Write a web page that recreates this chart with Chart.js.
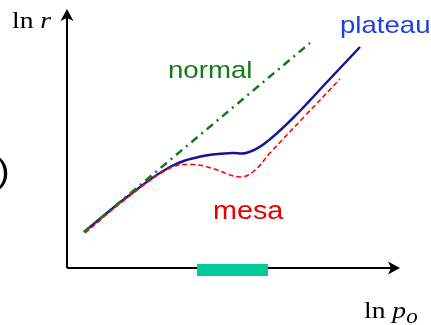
<!DOCTYPE html>
<html>
<head>
<meta charset="utf-8">
<script src="https://cdn.jsdelivr.net/npm/chart.js@4/dist/chart.umd.min.js"></script>
<style>
  html, body { margin: 0; padding: 0; background: #fff; }
  canvas { display: block; }
</style>
</head>
<body>
<canvas id="myChart" width="431" height="325"></canvas>
<script>
'use strict';

// curves, in ln p_o / ln r units
var plateauX = [1.7, 6.0, 10.3, 13.6, 16.5, 17.9, 19.7, 22.6, 26.0, 29.3];
var plateauY = [3.6, 7.1, 10.1, 11.2, 11.5, 11.5, 12.4, 15.0, 18.6, 22.1];

var mesaX = [1.8, 6.0, 10.3, 12.6, 14.4, 17.3, 18.7, 20.3, 23.7, 27.3];
var mesaY = [3.5, 7.0, 10.0, 10.35, 10.0, 9.1, 9.7, 11.5, 15.1, 18.9];

var normalX = [1.7, 24.3];
var normalY = [3.6, 22.5];

// axes and the highlighted range on the ln p_o axis
var axisXEnd = 33.3;
var axisYEnd = 25.9;
var rangeX = [13.0, 20.1];
var rangeY = -0.2;

var labels = ['plateau', 'normal', 'mesa'];

function pts(xs, ys){
    var out = [];
    for (var i = 0; i < xs.length; i++) {
        out.push({x: xs[i], y: ys[i]});
    }
    return out;
}

function stretchText(ctx, txt, x, y, font, color, k){
    k = k || 1.15;
    ctx.save();
    ctx.font = font;
    ctx.fillStyle = color;
    ctx.textBaseline = 'alphabetic';
    ctx.translate(x, y);
    ctx.scale(k, 1);
    ctx.fillText(txt, 0, 0);
    var w = ctx.measureText(txt).width * k;
    ctx.restore();
    return w;
}

//------- arrows and text
var decor = {
    id: 'decor',
    afterDatasetsDraw: function(chart){
        var ctx = chart.ctx;
        var sx = chart.scales.x, sy = chart.scales.y;
        var ox = sx.getPixelForValue(0), oy = sy.getPixelForValue(0);

        ctx.save();
        ctx.fillStyle = '#000';
        // y arrow
        var tx = ox, ty = sy.getPixelForValue(axisYEnd);
        ctx.beginPath();
        ctx.moveTo(tx, ty);
        ctx.lineTo(tx + 6.5, ty + 12);
        ctx.lineTo(tx, ty + 9);
        ctx.lineTo(tx - 6.5, ty + 12);
        ctx.closePath();
        ctx.fill();
        // x arrow
        tx = sx.getPixelForValue(axisXEnd); ty = oy;
        ctx.beginPath();
        ctx.moveTo(tx, ty);
        ctx.lineTo(tx - 12, ty - 6.5);
        ctx.lineTo(tx - 9, ty);
        ctx.lineTo(tx - 12, ty + 6.5);
        ctx.closePath();
        ctx.fill();
        ctx.restore();

        var sans = 'px "Liberation Sans", Arial, sans-serif';
        var serif = '"Liberation Serif", "Times New Roman", serif';
        stretchText(ctx, labels[0], 340, 33, '24' + sans, '#1f3fdc');
        stretchText(ctx, labels[1], 168, 78, '24' + sans, '#187818');
        stretchText(ctx, labels[2], 213, 219, '25' + sans, '#e60000');
        stretchText(ctx, ')', -3, 182, '33' + sans, '#000');

        var w = stretchText(ctx, 'ln ', 12, 28, '24px ' + serif, '#000');
        stretchText(ctx, 'r', 12 + w, 28, 'italic 24px ' + serif, '#000');

        w = stretchText(ctx, 'ln ', 364, 318, '24px ' + serif, '#000');
        var w2 = stretchText(ctx, 'p', 364 + w, 318, 'italic 24px ' + serif, '#000');
        stretchText(ctx, 'o', 364 + w + w2, 323, 'italic 20px ' + serif, '#000');
    }
};

var ctx = document.getElementById('myChart').getContext('2d');
var chart = new Chart(ctx, {
    type: 'line',
    data: {
        datasets: [
            {
                label: 'range',
                data: pts(rangeX, [rangeY, rangeY]),
                borderColor: '#00cc99',
                borderWidth: 12,
                borderCapStyle: 'butt',
                pointRadius: 0
            },
            {
                label: 'axis x',
                data: pts([0, axisXEnd - 0.5], [0, 0]),
                borderColor: '#000',
                borderWidth: 2,
                pointRadius: 0
            },
            {
                label: 'axis y',
                data: pts([0, 0], [0, axisYEnd - 0.5]),
                borderColor: '#000',
                borderWidth: 2,
                pointRadius: 0
            },
            {
                label: 'normal',
                data: pts(normalX, normalY),
                borderColor: '#127a12',
                borderWidth: 2.5,
                borderDash: [8, 5, 2, 5],
                pointRadius: 0
            },
            {
                label: 'mesa',
                data: pts(mesaX, mesaY),
                borderColor: '#ff0000',
                borderWidth: 1.6,
                borderDash: [5, 3],
                tension: 0.4,
                pointRadius: 0
            },
            {
                label: 'plateau',
                data: pts(plateauX, plateauY),
                borderColor: '#14149a',
                borderWidth: 2.5,
                tension: 0.4,
                pointRadius: 0
            }
        ]
    },
    options: {
        responsive: false,
        animation: false,
        layout: { padding: 0 },
        plugins: { legend: { display: false }, tooltip: { enabled: false } },
        scales: {
            x: { type: 'linear', min: -6.7, max: 36.4, display: false },
            y: { type: 'linear', min: -5.7, max: 26.8, display: false }
        }
    },
    plugins: [decor]
});
</script>
</body>
</html>
